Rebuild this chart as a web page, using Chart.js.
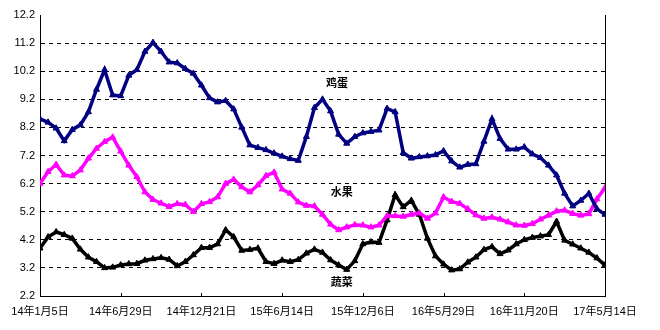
<!DOCTYPE html>
<html><head><meta charset="utf-8">
<script src="https://cdn.jsdelivr.net/npm/chart.js@4"></script>
<style>html,body{margin:0;padding:0;background:#fff}#c{display:block}</style>
</head><body><canvas id="c" width="660" height="330"></canvas>
<script>
const weeks = [0,2.5,5,7.5,10,12.5,15,17.5,20,22.5,25,27.5,30,32.5,35,37.5,40,42.5,45,47.5,50,52.5,55,57.5,60,62.5,65,67.5,70,72.5,75,77.5,80,82.5,85,87.5,90,92.5,95,97.5,100,102.5,105,107.5,110,112.5,115,117.5,120,122.5,125,127.5,130,132.5,135,137.5,140,142.5,145,147.5,150,152.5,155,157.5,160,162.5,165,167.5,170,172.5,175];

const egg = [8.5,8.38,8.17,7.72,8.12,8.29,8.75,9.55,10.25,9.35,
9.32,10.05,10.25,10.9,11.22,10.9,10.52,10.49,10.29,10.12,
9.7,9.25,9.1,9.15,8.85,8.2,7.57,7.48,7.4,7.28,
7.17,7.08,7.02,7.87,8.9,9.2,8.78,7.95,7.63,7.87,
8.0,8.05,8.1,8.87,8.75,7.3,7.1,7.15,7.18,7.22,
7.36,7.0,6.78,6.88,6.9,7.7,8.5,7.8,7.42,7.42,
7.5,7.25,7.12,6.85,6.5,5.85,5.4,5.6,5.85,5.3,
5.1];

const fruit = [6.2,6.62,6.88,6.5,6.47,6.68,7.1,7.45,7.69,7.85,
7.35,6.85,6.44,5.9,5.63,5.5,5.38,5.48,5.45,5.2,
5.48,5.55,5.72,6.2,6.35,6.08,5.9,6.15,6.48,6.6,
6.0,5.85,5.54,5.42,5.4,5.1,4.75,4.55,4.65,4.73,
4.72,4.65,4.72,5.05,5.05,5.03,5.1,5.15,4.96,5.15,
5.72,5.56,5.49,5.3,5.08,4.96,5.0,4.93,4.83,4.72,
4.71,4.77,4.93,5.07,5.22,5.25,5.13,5.07,5.12,5.65,
6.05];

const veg = [3.9,4.3,4.48,4.38,4.25,3.86,3.58,3.42,3.2,3.22,
3.3,3.34,3.35,3.47,3.52,3.56,3.5,3.27,3.42,3.66,
3.92,3.92,4.05,4.55,4.3,3.82,3.85,3.9,3.42,3.35,
3.47,3.42,3.49,3.72,3.86,3.75,3.48,3.3,3.14,3.45,
4.05,4.12,4.1,4.9,5.8,5.37,5.6,5.1,4.25,3.62,
3.33,3.12,3.16,3.4,3.58,3.85,3.95,3.7,3.83,4.05,
4.2,4.28,4.33,4.38,4.85,4.18,4.04,3.9,3.75,3.55,
3.3];

const xTickWeeks = [0,25,50,75,100,125,150,175];
const xTickLabels = ['14年1月5日','14年6月29日','14年12月21日','15年6月14日','15年12月6日','16年5月29日','16年11月20日','17年5月14日'];
const yTicks = [2.2,3.2,4.2,5.2,6.2,7.2,8.2,9.2,10.2,11.2,12.2];

const seriesNames = ['鸡蛋','水果','蔬菜'];
const seriesColors = ['#000080','#FF00FF','#000000'];
const nameWeeks = [92,93.5,93.5];
const nameValues = [9.79,5.9,2.72];

const FONT = '"Liberation Sans", "Noto Sans CJK SC", sans-serif';

const decor = {
  id:'decor',
  afterDraw(chart){
    const {ctx, chartArea:a, scales:{x,y}} = chart;
    ctx.save();
    ctx.strokeStyle='#000'; ctx.lineWidth=1;
    ctx.beginPath();
    ctx.moveTo(Math.round(a.right)+0.5, a.top);
    ctx.lineTo(Math.round(a.right)+0.5, a.bottom);
    xTickWeeks.forEach((w,i)=>{
      if(i===0) return;
      const px = Math.round(x.getPixelForValue(w))+0.5;
      ctx.moveTo(px, a.bottom); ctx.lineTo(px, a.bottom-3);
    });
    ctx.stroke();
    ctx.fillStyle='#000';
    ctx.font='bold 11px "Noto Sans CJK SC", sans-serif';
    ctx.textAlign='center'; ctx.textBaseline='middle';
    seriesNames.forEach((n,i)=>{
      ctx.fillText(n, x.getPixelForValue(nameWeeks[i]), y.getPixelForValue(nameValues[i]));
    });
    ctx.restore();
  }
};

function ds(label, data, color){
  return {label, data, borderColor:color, backgroundColor:color,
    borderWidth:3.5, pointStyle:'triangle', pointRadius:3.5, pointBorderWidth:1,
    pointBackgroundColor:color, pointBorderColor:color, tension:0, fill:false};
}

new Chart(document.getElementById('c').getContext('2d'), {
  type:'line',
  data:{labels:weeks, datasets:[ds(seriesNames[0],egg,seriesColors[0]), ds(seriesNames[1],fruit,seriesColors[1]), ds(seriesNames[2],veg,seriesColors[2])]},
  options:{
    responsive:false, animation:false, devicePixelRatio:1,
    layout:{padding:{top:15,right:55,left:0,bottom:0}},
    plugins:{legend:{display:false}, tooltip:{enabled:false}},
    scales:{
      x:{type:'linear', min:0, max:175,
        afterBuildTicks:s=>{s.ticks = xTickWeeks.map(v=>({value:v}));},
        afterFit:s=>{s.height=34;},
        ticks:{autoSkip:false, maxRotation:0, padding:9, color:'#000', font:{family:FONT,size:11},
          callback:v=>xTickLabels[xTickWeeks.indexOf(v)]},
        grid:{display:false, drawTicks:false},
        border:{display:true, color:'#000', width:1}},
      y:{min:2.2, max:12.2,
        afterBuildTicks:s=>{s.ticks = yTicks.map(v=>({value:v}));},
        afterFit:s=>{s.width=40;},
        ticks:{padding:5, color:'#000', font:{family:FONT,size:11}, callback:v=>Number(v).toFixed(1)},
        grid:{drawTicks:false, lineWidth:1,
          color:c=>(c.tick && c.tick.value>2.3 && c.tick.value<12.1)?'#000':'rgba(0,0,0,0)'},
        border:{display:true, color:'#000', width:1, dash:[4,4]}}
    }
  },
  plugins:[decor]
});
</script>
</body></html>
